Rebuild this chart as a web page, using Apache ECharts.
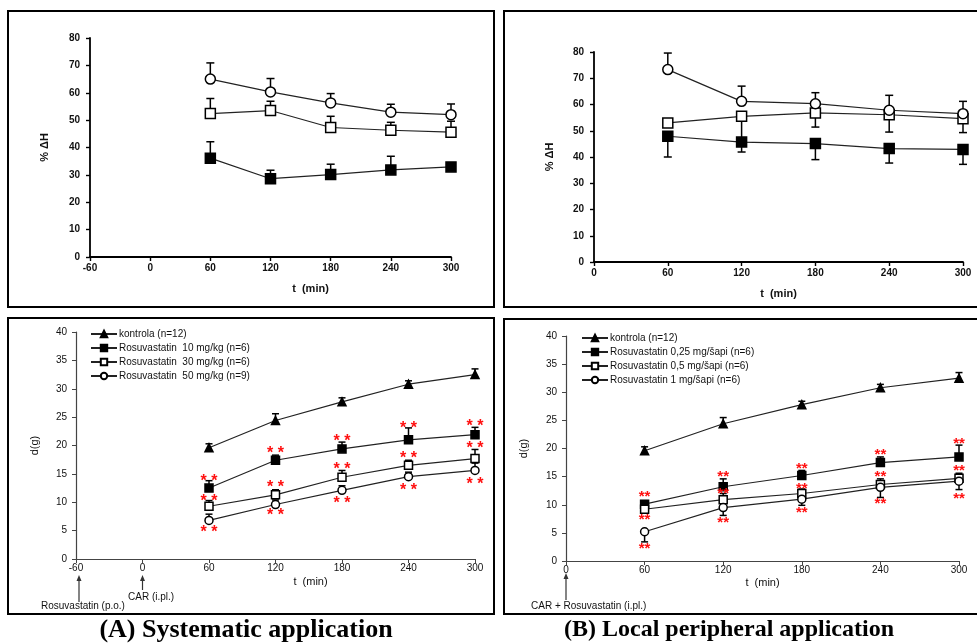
<!DOCTYPE html>
<html><head><meta charset="utf-8">
<script src="https://cdn.jsdelivr.net/npm/echarts@6/dist/echarts.min.js"></script>
<style>html,body{margin:0;padding:0;background:#fff}#c{width:977px;height:644px}</style>
</head><body><div id="c"></div>
<script>
// ---------- DATA ----------
const times = [60, 120, 180, 240, 300];

// Top-left (A) %ΔH
const topA_r10 = [36.1, 28.6, 30.1, 31.8, 32.9];
const topA_r10_err = [42.1, 31.7, 33.9, 36.8, 34.3];
const topA_r30 = [52.4, 53.5, 47.3, 46.3, 45.6];
const topA_r30_err = [57.9, 56.9, 51.4, 49.2, 49.6];
const topA_r50 = [65.0, 60.3, 56.3, 52.9, 52.0];
const topA_r50_err = [70.9, 65.2, 59.7, 55.8, 55.9];

// Top-right (B) %ΔH
const topB_r025 = [47.9, 45.7, 45.1, 43.2, 42.9];
const topB_r025_err = [40.0, 41.9, 39.0, 37.7, 37.2];
const topB_r05 = [53.0, 55.5, 56.8, 56.1, 54.6];
const topB_r05_err = [null, 46.5, 51.4, 49.5, 49.3];
const topB_r1 = [73.3, 61.2, 60.3, 57.8, 56.5];
const topB_r1_err = [79.6, 67.0, 64.5, 63.5, 61.2];

// Bottom-left (A) d(g)
const botA_k = [19.6, 24.4, 27.7, 30.8, 32.5];
const botA_k_err = [20.3, 25.6, 28.4, 31.4, 33.5];
const botA_r10 = [12.5, 17.4, 19.4, 21.0, 21.9];
const botA_r10_err = [13.8, 18.3, 20.6, 23.1, 23.2];
const botA_r30 = [9.3, 11.3, 14.4, 16.5, 17.7];
const botA_r30_err = [10.3, 12.2, 15.6, 17.4, 19.3];
const botA_r50 = [6.8, 9.6, 12.1, 14.5, 15.6];
const botA_r50_err = [7.9, 10.4, 12.9, 15.3, 16.9];
const botA_starsHi = [14.4, 19.2, 21.4, 23.6, 24.0];
const botA_starsMid = [10.8, 13.3, 16.4, 18.4, 20.2];
const botA_starsLo = [5.3, 8.3, 10.5, 12.8, 13.9];

// Bottom-right (B) d(g)
const botB_k = [19.6, 24.4, 27.8, 30.8, 32.5];
const botB_k_err = [20.3, 25.5, 28.4, 31.4, 33.5];
const botB_r025 = [10.1, 13.2, 15.2, 17.5, 18.5];
const botB_r025_err = [null, 14.6, 16.1, 18.5, 20.6];
const botB_r05 = [9.2, 10.9, 12.0, 13.6, 14.7];
const botB_r05_err = [null, 12.0, 12.8, 14.6, 15.6];
const botB_r1 = [5.2, 9.5, 11.0, 13.1, 14.2];
const botB_r1_err = [3.4, 8.1, 9.9, 11.3, 12.7];
const botB_starsHi = [12.1, 15.7, 17.1, 19.5, 21.6];
const botB_starsMid = [8.0, 12.6, 13.6, 15.7, 16.7];
const botB_starsLo = [2.9, 7.5, 9.3, 10.8, 11.8];

const legendA = ['kontrola (n=12)', 'Rosuvastatin  10 mg/kg (n=6)', 'Rosuvastatin  30 mg/kg (n=6)', 'Rosuvastatin  50 mg/kg (n=9)'];
const legendB = ['kontrola (n=12) ', 'Rosuvastatin 0,25 mg/šapi (n=6)', 'Rosuvastatin 0,5 mg/šapi (n=6)', 'Rosuvastatin 1 mg/šapi (n=6)'];

// ---------- CHART ----------
const FONT = 'Liberation Sans';
const chart = echarts.init(document.getElementById('c'), null, {renderer: 'canvas'});

function xAxis(gi, min, bold, nameGap, namePadLeft) {
  return {
    type: 'value', gridIndex: gi, min: min, max: 300, interval: 60,
    name: 't  (min)', nameLocation: 'middle', nameGap: nameGap,
    nameTextStyle: {fontFamily: FONT, fontSize: 11, fontWeight: bold ? 'bold' : 'normal', color: '#111', padding: [0, 0, 0, namePadLeft]},
    axisLine: {onZero: false, lineStyle: {color: bold ? '#000' : '#444', width: bold ? 1.8 : 1.2}},
    axisTick: {length: 4, lineStyle: {color: bold ? '#000' : '#444', width: bold ? 1.4 : 1}},
    axisLabel: {fontFamily: FONT, fontSize: 10, fontWeight: bold ? 'bold' : 'normal', color: '#111', margin: bold ? 6 : 4},
    splitLine: {show: false}
  };
}
function yAxis(gi, max, interval, name, bold, nameGap) {
  return {
    type: 'value', gridIndex: gi, min: 0, max: max, interval: interval,
    name: name, nameLocation: 'middle', nameGap: nameGap, nameRotate: 90,
    nameTextStyle: {fontFamily: FONT, fontSize: 11, fontWeight: bold ? 'bold' : 'normal', color: '#111'},
    axisLine: {show: true, onZero: false, lineStyle: {color: bold ? '#000' : '#444', width: bold ? 1.8 : 1.2}},
    axisTick: {show: true, length: 4, lineStyle: {color: bold ? '#000' : '#444', width: bold ? 1.4 : 1}},
    axisLabel: {fontFamily: FONT, fontSize: 10, fontWeight: bold ? 'bold' : 'normal', color: '#111', margin: bold ? 10 : 9},
    splitLine: {show: false}
  };
}
function pts(vals) { return times.map((t, i) => [t, vals[i]]); }
function lineSeries(name, gi, vals, symbol, filled, size) {
  return {
    name: name, type: 'line', xAxisIndex: gi, yAxisIndex: gi, data: pts(vals),
    symbol: symbol, symbolSize: size, showSymbol: true,
    lineStyle: {color: '#222', width: 1.2},
    itemStyle: {color: filled ? '#000' : '#fff', borderColor: '#000', borderWidth: 1.5},
    z: 3, silent: true
  };
}
function errSeries(gi, vals, errs, cap) {
  return {
    type: 'custom', xAxisIndex: gi, yAxisIndex: gi, z: 1, silent: true,
    data: times.map((t, i) => [t, vals[i], errs[i]]).filter(d => d[2] != null),
    encode: {x: 0, y: [1, 2]},
    renderItem: function (params, api) {
      const p1 = api.coord([api.value(0), api.value(1)]);
      const p2 = api.coord([api.value(0), api.value(2)]);
      return {type: 'group', children: [
        {type: 'line', shape: {x1: p1[0], y1: p1[1], x2: p2[0], y2: p2[1]}, style: {stroke: '#000', lineWidth: 1.5}},
        {type: 'line', shape: {x1: p2[0] - cap, y1: p2[1], x2: p2[0] + cap, y2: p2[1]}, style: {stroke: '#000', lineWidth: 1.5}}
      ]};
    }
  };
}
function starSeries(gi, vals, txt, size, dy) {
  return {
    type: 'custom', xAxisIndex: gi, yAxisIndex: gi, z: 4, silent: true,
    data: pts(vals), encode: {x: 0, y: 1},
    renderItem: function (params, api) {
      const c = api.coord([api.value(0), api.value(1)]);
      return {type: 'text', x: c[0], y: c[1] + dy, style: {text: txt, fill: '#ff1010', font: 'bold ' + size + 'px "' + FONT + '"', align: 'center', verticalAlign: 'middle'}};
    }
  };
}

const series = [
  // Top-left
  errSeries(0, topA_r10, topA_r10_err, 4), errSeries(0, topA_r30, topA_r30_err, 4), errSeries(0, topA_r50, topA_r50_err, 4),
  lineSeries('A10', 0, topA_r10, 'rect', true, 10),
  lineSeries('A30', 0, topA_r30, 'rect', false, 10),
  lineSeries('A50', 0, topA_r50, 'circle', false, 10),
  // Top-right
  errSeries(1, topB_r025, topB_r025_err, 4), errSeries(1, topB_r05, topB_r05_err, 4), errSeries(1, topB_r1, topB_r1_err, 4),
  lineSeries('B025', 1, topB_r025, 'rect', true, 10),
  lineSeries('B05', 1, topB_r05, 'rect', false, 10),
  lineSeries('B1', 1, topB_r1, 'circle', false, 10),
  // Bottom-left
  errSeries(2, botA_k, botA_k_err, 3.5), errSeries(2, botA_r10, botA_r10_err, 3.5), errSeries(2, botA_r30, botA_r30_err, 3.5), errSeries(2, botA_r50, botA_r50_err, 3.5),
  lineSeries(legendA[0], 2, botA_k, 'triangle', true, 8),
  lineSeries(legendA[1], 2, botA_r10, 'rect', true, 8),
  lineSeries(legendA[2], 2, botA_r30, 'rect', false, 8),
  lineSeries(legendA[3], 2, botA_r50, 'circle', false, 8),
  starSeries(2, botA_starsHi, '* *', 16, 4), starSeries(2, botA_starsMid, '* *', 16, 4), starSeries(2, botA_starsLo, '* *', 16, 4),
  // Bottom-right
  errSeries(3, botB_k, botB_k_err, 3.5), errSeries(3, botB_r025, botB_r025_err, 3.5), errSeries(3, botB_r05, botB_r05_err, 3.5), errSeries(3, botB_r1, botB_r1_err, 3.5),
  lineSeries(legendB[0], 3, botB_k, 'triangle', true, 8),
  lineSeries(legendB[1], 3, botB_r025, 'rect', true, 8),
  lineSeries(legendB[2], 3, botB_r05, 'rect', false, 8),
  lineSeries(legendB[3], 3, botB_r1, 'circle', false, 8),
  starSeries(3, botB_starsHi, '**', 15, 4), starSeries(3, botB_starsMid, '**', 15, 4), starSeries(3, botB_starsLo, '**', 15, 4)
];

const legendStyle = {
  orient: 'vertical', itemWidth: 26, itemHeight: 8, itemGap: 4, selectedMode: false,
  textStyle: {fontFamily: FONT, fontSize: 10, color: '#111', padding: [0, 0, 0, -3]}, padding: 0
};

chart.setOption({
  animation: false,
  backgroundColor: '#fff',
  grid: [
    {left: 90, top: 38, width: 361, height: 219},
    {left: 594, top: 52, width: 369, height: 210},
    {left: 76, top: 332, width: 399, height: 227},
    {left: 566, top: 336, width: 393, height: 225}
  ],
  xAxis: [xAxis(0, -60, true, 26, 80), xAxis(1, 0, true, 26, 0), xAxis(2, -60, false, 17, 70), xAxis(3, 0, false, 16, 0)],
  yAxis: [yAxis(0, 80, 10, '% ΔH', true, 40), yAxis(1, 80, 10, '% ΔH', true, 39), yAxis(2, 40, 5, 'd(g)', false, 36), yAxis(3, 40, 5, 'd(g)', false, 37)],
  legend: [
    Object.assign({}, legendStyle, {left: 90, top: 329, data: legendA}),
    Object.assign({}, legendStyle, {left: 581, top: 333, data: legendB})
  ],
  series: series
});

// ---------- Annotations (panel frames, arrows, captions) ----------
function arrow(px, y1, y2) {
  return [
    {type: 'line', shape: {x1: px, y1: y2, x2: px, y2: y1 + 4}, style: {stroke: '#333', lineWidth: 1.2}},
    {type: 'polygon', shape: {points: [[px - 2.5, y1 + 6], [px + 2.5, y1 + 6], [px, y1]]}, style: {fill: '#333'}}
  ];
}
const pm60 = chart.convertToPixel({gridIndex: 2}, [-60, 0]);
const p0A = chart.convertToPixel({gridIndex: 2}, [0, 0]);
const p0B = chart.convertToPixel({gridIndex: 3}, [0, 0]);
const txt = (x, y, s, align) => ({type: 'text', x: x, y: y, style: {text: s, font: '10px "' + FONT + '"', fill: '#111', align: align || 'left', verticalAlign: 'middle'}});

chart.setOption({
  graphic: [
    {type: 'rect', shape: {x: 8, y: 11, width: 486, height: 296}, style: {fill: 'none', stroke: '#000', lineWidth: 2}},
    {type: 'rect', shape: {x: 504, y: 11, width: 490, height: 296}, style: {fill: 'none', stroke: '#000', lineWidth: 2}},
    {type: 'rect', shape: {x: 8, y: 318, width: 486, height: 296}, style: {fill: 'none', stroke: '#000', lineWidth: 2}},
    {type: 'rect', shape: {x: 504, y: 319, width: 490, height: 295}, style: {fill: 'none', stroke: '#000', lineWidth: 2}}
  ].concat(
    arrow(pm60[0] + 3, pm60[1] + 16, pm60[1] + 43),
    arrow(p0A[0], p0A[1] + 16, p0A[1] + 31),
    arrow(p0B[0], p0B[1] + 12, p0B[1] + 39),
    [
      txt(128, 597, 'CAR (i.pl.)'),
      txt(41, 606, 'Rosuvastatin (p.o.)'),
      txt(531, 606, 'CAR + Rosuvastatin (i.pl.)'),
      {type: 'text', x: 246, y: 630, style: {text: '(A) Systematic application', font: 'bold 26px "Liberation Serif"', fill: '#000', align: 'center', verticalAlign: 'middle'}},
      {type: 'text', x: 729, y: 630, style: {text: '(B) Local peripheral application', font: 'bold 24px "Liberation Serif"', fill: '#000', align: 'center', verticalAlign: 'middle'}}
    ]
  )
});
</script>
</body></html>
